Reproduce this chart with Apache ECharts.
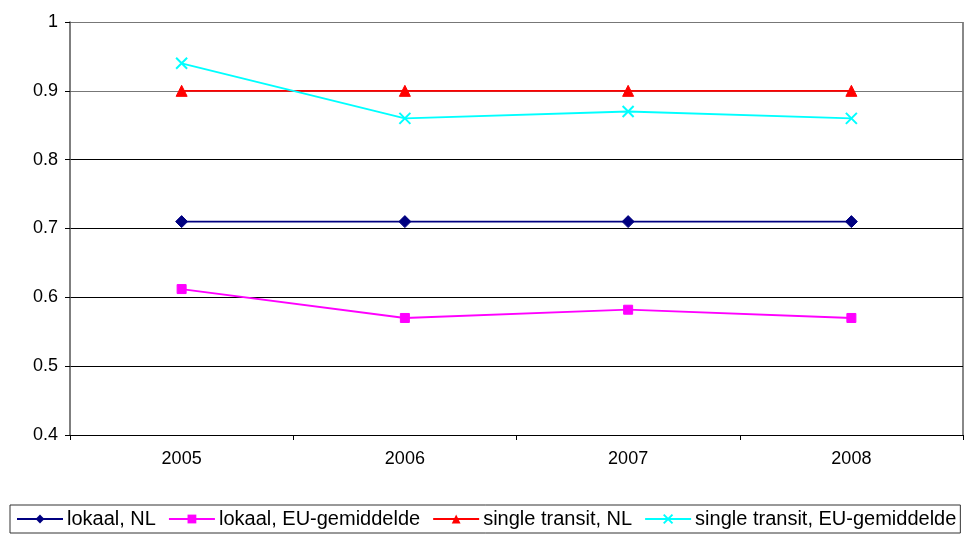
<!DOCTYPE html>
<html>
<head>
<meta charset="utf-8">
<script src="https://cdn.jsdelivr.net/npm/echarts@6/dist/echarts.min.js"></script>
<style>
  html, body { margin: 0; padding: 0; background: #fff; }
  #chart { width: 971px; height: 534px; }
</style>
</head>
<body>
<div id="chart"></div>
<script>
const years = ['2005', '2006', '2007', '2008'];
const lokaalNL = [0.71, 0.71, 0.71, 0.71];
const lokaalEU = [0.612, 0.57, 0.582, 0.57];
const transitNL = [0.9, 0.9, 0.9, 0.9];
const transitEU = [0.94, 0.86, 0.87, 0.86];

const chart = echarts.init(document.getElementById('chart'));
const font = 'Arial, "Liberation Sans", sans-serif';

const series = [
  { name: 'lokaal, NL', data: lokaalNL, color: '#000080', symbol: 'diamond', symbolSize: 12 },
  { name: 'lokaal, EU-gemiddelde', data: lokaalEU, color: '#ff00ff', symbol: 'rect', symbolSize: 9 },
  { name: 'single transit, NL', data: transitNL, color: '#ff0000', symbol: 'triangle', symbolSize: 11 },
  { name: 'single transit, EU-gemiddelde', data: transitEU, color: '#00ffff',
    symbol: 'path://M0,0L10,10M10,0L0,10', symbolSize: 11 }
];

chart.setOption({
  animation: false,
  grid: { left: 70, right: 8, top: 22, bottom: 99, containLabel: false },
  legend: {
    bottom: 1,
    left: 10,
    width: 958,
    padding: [4, 4, 4, 6],
    borderColor: '#333',
    borderWidth: 1,
    itemWidth: 46,
    itemHeight: 11,
    itemGap: 12,
    textStyle: { color: '#000', fontFamily: font, fontSize: 20, padding: [0, 0, 0, -1] },
    data: series.map(s => s.name)
  },
  xAxis: {
    type: 'category',
    data: years,
    boundaryGap: true,
    axisLine: { lineStyle: { color: '#000', width: 1 } },
    axisTick: { show: true, length: 5, inside: false, lineStyle: { color: '#000' } },
    axisLabel: { color: '#000', fontFamily: font, fontSize: 18, margin: 15 },
    splitLine: { show: false }
  },
  yAxis: {
    type: 'value',
    min: 0.4,
    max: 1,
    interval: 0.1,
    axisLine: { show: true, lineStyle: { color: '#555', width: 1.5 } },
    axisTick: { show: true, length: 5, lineStyle: { color: '#000' } },
    axisLabel: { color: '#000', fontFamily: font, fontSize: 18, margin: 12,
      formatter: v => String(Math.round(v * 10) / 10) },
    splitLine: { show: true, lineStyle: { color: ['#000', '#000', '#000', '#000', '#000', '#777', '#777'], width: 1.2 } }
  },
  series: series.map(s => ({
    name: s.name,
    type: 'line',
    data: s.data,
    symbol: s.symbol,
    symbolSize: s.symbolSize,
    showAllSymbol: true,
    lineStyle: { color: s.color, width: 1.8 },
    itemStyle: s.symbol.indexOf('path') === 0
      ? { color: 'none', borderColor: s.color, borderWidth: 2 }
      : { color: s.color, borderColor: s.color },
    color: s.color
  })),
  graphic: [
    { type: 'line', shape: { x1: 963, y1: 22, x2: 963, y2: 435 }, style: { stroke: '#888', lineWidth: 2 } }
  ]
});
</script>
</body>
</html>
